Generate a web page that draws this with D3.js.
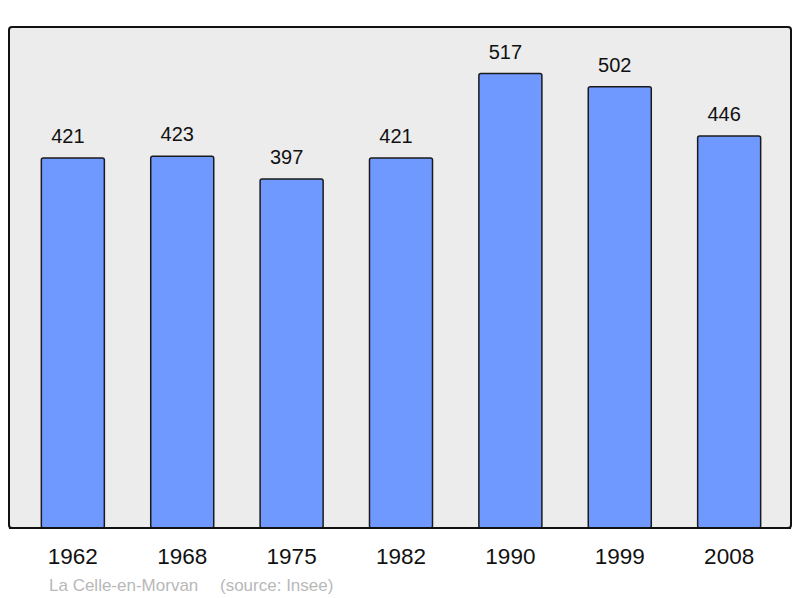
<!DOCTYPE html>
<html>
<head>
<meta charset="utf-8">
<script src="https://cdn.jsdelivr.net/npm/d3@7"></script>
<style>
  body { margin: 0; background: #fff; }
  text { font-family: "Liberation Sans", Arial, sans-serif; }
</style>
</head>
<body>
<div id="chart"></div>
<script>
var years = ["1962", "1968", "1975", "1982", "1990", "1999", "2008"];
var population = [421, 423, 397, 421, 517, 502, 446];
var townName = "La Celle-en-Morvan";
var sourceNote = "(source: Insee)";

var w = 800, h = 598;
var frame = { left: 9, top: 27, right: 791, bottom: 528 };

var svg = d3.select("#chart").append("svg")
  .attr("width", w).attr("height", h);

// background panel
svg.append("rect")
  .attr("x", frame.left).attr("y", frame.top)
  .attr("width", frame.right - frame.left)
  .attr("height", frame.bottom - frame.top)
  .attr("rx", 3)
  .attr("fill", "#ececec")
  .attr("stroke", "#111").attr("stroke-width", 2);

var x = d3.scaleBand().domain(years)
  .range([14, 788])
  .paddingInner(0.424).paddingOuter(0.25);

var y = d3.scaleLinear().domain([0, 570])
  .range([frame.bottom, frame.top]);

var data = years.map(function(yr, i) { return { year: yr, value: population[i] }; });

svg.selectAll("rect.bar").data(data).enter().append("rect")
  .attr("class", "bar")
  .attr("x", function(d) { return x(d.year); })
  .attr("y", function(d) { return y(d.value); })
  .attr("width", x.bandwidth())
  .attr("height", function(d) { return frame.bottom - y(d.value); })
  .attr("rx", 2)
  .attr("fill", "#7099ff")
  .attr("stroke", "#1a1a1a").attr("stroke-width", 1.5);

// value labels (sit a little left of the bar centre, as in the original)
svg.selectAll("text.val").data(data).enter().append("text")
  .attr("class", "val")
  .attr("x", function(d) { return x(d.year) + x.bandwidth() / 2 - 5; })
  .attr("y", function(d) { return y(d.value) - 15; })
  .attr("text-anchor", "middle")
  .attr("font-size", 20)
  .attr("fill", "#111")
  .text(function(d) { return d.value; });

// redraw the bottom edge over bars
svg.append("line")
  .attr("x1", frame.left).attr("x2", frame.right)
  .attr("y1", frame.bottom).attr("y2", frame.bottom)
  .attr("stroke", "#111").attr("stroke-width", 2);

// year axis
var xAxis = svg.append("g")
  .attr("transform", "translate(0," + frame.bottom + ")")
  .call(d3.axisBottom(x).tickSize(0).tickPadding(20));
xAxis.select(".domain").remove();
xAxis.selectAll("text")
  .attr("font-size", 22.5)
  .attr("font-family", "Liberation Sans, Arial, sans-serif")
  .attr("fill", "#111");

// footer
svg.append("text")
  .attr("x", 49).attr("y", 591)
  .attr("font-size", 17)
  .attr("fill", "#b8b8b8")
  .text(townName);
svg.append("text")
  .attr("x", 220).attr("y", 591)
  .attr("font-size", 17)
  .attr("fill", "#b8b8b8")
  .text(sourceNote);
</script>
</body>
</html>
